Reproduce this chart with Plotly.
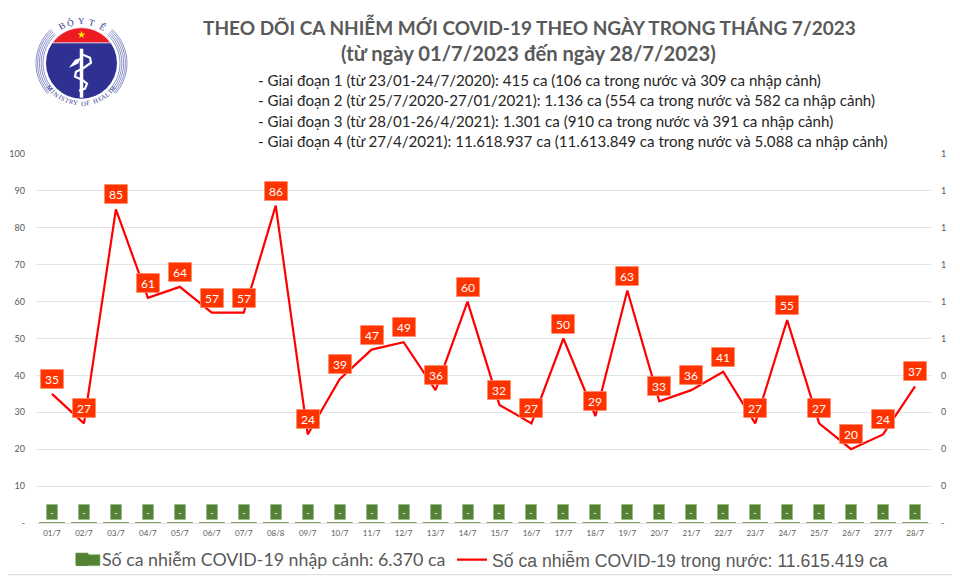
import math
import plotly.graph_objects as go

days = ["01/7", "02/7", "03/7", "04/7", "05/7", "06/7", "07/7", "08/8", "09/7", "10/7",
        "11/7", "12/7", "13/7", "14/7", "15/7", "16/7", "17/7", "18/7", "19/7", "20/7",
        "21/7", "22/7", "23/7", "24/7", "25/7", "26/7", "27/7", "28/7"]
trong_nuoc = [35, 27, 85, 61, 64, 57, 57, 86, 24, 39, 47, 49, 36, 60, 32, 27, 50, 29, 63, 33,
              36, 41, 27, 55, 27, 20, 24, 37]
nhap_canh = [0] * 28

left_ticks = [0, 10, 20, 30, 40, 50, 60, 70, 80, 90, 100]
left_labels = ["-", "10", "20", "30", "40", "50", "60", "70", "80", "90", "100"]
right_ticks = [0, 0.1, 0.2, 0.3, 0.4, 0.5, 0.6, 0.7, 0.8, 0.9, 1]
right_labels = ["-", "0", "0", "0", "0", "1", "1", "1", "1", "1", "1"]

title_lines = ["THEO DÕI CA NHIỄM MỚI COVID-19 THEO NGÀY TRONG THÁNG 7/2023",
               "(từ ngày 01/7/2023 đến ngày 28/7/2023)"]
giai_doan = ["- Giai đoạn 1 (từ 23/01-24/7/2020): 415 ca (106 ca trong nước và 309 ca nhập cảnh)",
             "- Giai đoạn 2 (từ 25/7/2020-27/01/2021): 1.136 ca (554 ca trong nước và 582 ca nhập cảnh)",
             "- Giai đoạn 3 (từ 28/01-26/4/2021): 1.301 ca (910 ca trong nước và 391 ca nhập cảnh)",
             "- Giai đoạn 4 (từ 27/4/2021): 11.618.937 ca (11.613.849 ca trong nước và 5.088 ca nhập cảnh)"]

# the page body has an 8px margin, so the figure is 8px smaller than the window
PAD = 8
W, H = 960 - PAD, 576 - PAD
M_L, M_R, M_T, M_B = 36 - PAD, 29, 154.3 - PAD, 52.7


# page pixels -> paper coordinates, for the header and the logo
def px(x):
    return (x - PAD - M_L) / (W - M_L - M_R)


def py(y):
    return 1 - (y - PAD - M_T) / (H - M_T - M_B)


def circle(cx, cy, r, **kw):
    return dict(type="circle", xref="paper", yref="paper", x0=px(cx - r), x1=px(cx + r),
                y0=py(cy + r), y1=py(cy - r), layer="above", **kw)


def svg_path(points, close=True):
    d = "M " + " L ".join(f"{px(x)},{py(y)}" for x, y in points)
    return d + (" Z" if close else "")


def page_text(x, y, text, xanchor="center", **kw):
    return dict(x=px(x), y=py(y), xref="paper", yref="paper", text=text, showarrow=False,
                xanchor=xanchor, yanchor="middle", **kw)


fig = go.Figure()
fig.add_trace(go.Bar(x=days, y=nhap_canh, yaxis="y2", name="Số ca nhiễm COVID-19 nhập cảnh: 6.370 ca",
                     marker=dict(color="#548235", line=dict(color="#548235", width=1)),
                     legend="legend", showlegend=True))
fig.add_trace(go.Scatter(x=days, y=trong_nuoc, mode="lines", name="Số ca nhiễm COVID-19 trong nước: 11.615.419 ca",
                         line=dict(color="#ff0000", width=2.2), legend="legend2", showlegend=True))

annotations = []
for d, v in zip(days, trong_nuoc):
    annotations.append(dict(x=d, y=v, text=str(v), showarrow=False, yshift=15, width=19, height=15,
                            bgcolor="#ff3300", bordercolor="#ffb8a0", borderwidth=0.5, borderpad=2,
                            font=dict(family="Lato", size=12, color="white")))
for d, v in zip(days, nhap_canh):
    annotations.append(dict(x=d, y=v, yref="y2", text="-", showarrow=False, yshift=11, width=9, height=13,
                            bgcolor="#548235", bordercolor="#b9cfa8", borderwidth=0.5, borderpad=1,
                            font=dict(family="Lato", size=9, color="white")))

annotations.append(page_text(529, 27, f"<b>{title_lines[0]}</b>", font=dict(family="Lato", size=19, color="#595959")))
annotations.append(page_text(528, 53, f"<b>{title_lines[1]}</b>", font=dict(family="Lato", size=20.2, color="#595959")))
for txt, cy in zip(giai_doan, [80, 100, 121, 141]):
    annotations.append(page_text(256, cy, txt, xanchor="left", font=dict(family="Lato", size=15.1, color="#262626")))

# logo
LX, LY = 81.5, 63.5
shapes = []
for r in [38.5, 40.3, 42.1, 43.9, 45.5]:
    for a0, a1 in [(-42, 48), (132, 222)]:
        arc = [(LX + r * math.cos(math.radians(a)), LY - r * math.sin(math.radians(a))) for a in range(a0, a1 + 1, 6)]
        shapes.append(dict(type="path", xref="paper", yref="paper", path=svg_path(arc, close=False),
                           line=dict(color="#5a62b0", width=0.7), fillcolor="rgba(0,0,0,0)", layer="above"))
shapes.append(circle(LX, LY, 35.5, fillcolor="#2e3192", line_width=0))
cap = [(LX + 35.5 * math.cos(math.radians(a)), LY - 35.5 * math.sin(math.radians(a))) for a in range(35, 146, 5)]
shapes.append(dict(type="path", xref="paper", yref="paper", path=svg_path(cap), fillcolor="#ed1c24",
                   line=dict(color="white", width=0.8), layer="above"))
star = []
for i in range(10):
    r = 4 if i % 2 == 0 else 1.6
    a = math.radians(90 + 36 * i)
    star.append((LX + r * math.cos(a), 35 - r * math.sin(a)))
shapes.append(dict(type="path", xref="paper", yref="paper", path=svg_path(star), fillcolor="#fff200",
                   line_width=0, layer="above"))
# staff, snake and leaf
shapes.append(dict(type="line", xref="paper", yref="paper", x0=px(LX), x1=px(LX), y0=py(49), y1=py(98),
                   line=dict(color="white", width=3.5), layer="above"))
snake = [(83, 55), (90, 58), (91, 63), (84, 68), (76, 72), (75, 77), (82, 80), (87, 84), (85, 89), (79, 91)]
shapes.append(dict(type="path", xref="paper", yref="paper", path=svg_path(snake, close=False),
                   line=dict(color="white", width=2.2), fillcolor="rgba(0,0,0,0)", layer="above"))
leaf = [(69, 68), (75, 60), (81, 58), (78, 64)]
shapes.append(dict(type="path", xref="paper", yref="paper", path=svg_path(leaf), fillcolor="white",
                   line_width=0, layer="above"))
# page edge line
shapes.append(dict(type="line", xref="paper", yref="paper", x0=px(0), x1=px(960), y0=py(575), y1=py(575),
                   line=dict(color="#d9d9d9", width=1), layer="above"))
# wider legend swatch, as in the reference
shapes.append(dict(type="rect", xref="paper", yref="paper", x0=px(77), x1=px(100), y0=py(566), y1=py(555),
                   fillcolor="#548235", line=dict(color="#6fbf73", width=0.6), layer="below"))

for ch, a in [("B", 118), ("Ộ", 105), ("Y", 90), ("T", 75), ("Ế", 60)]:
    annotations.append(page_text(LX + 42 * math.cos(math.radians(a)), LY - 42 * math.sin(math.radians(a)), ch,
                                 textangle=90 - a, font=dict(family="Liberation Serif", size=9, color="#2e3192")))
motto = "MINISTRY OF HEALTH"
for i, ch in enumerate(motto):
    a = 219 + i * 102 / (len(motto) - 1)
    annotations.append(page_text(LX + 40 * math.cos(math.radians(a)), LY - 40 * math.sin(math.radians(a)), ch,
                                 textangle=270 - a, font=dict(family="Liberation Serif", size=6.5, color="#2e3192")))

grid = "#e3e3e3"
fig.update_layout(
    width=W, height=H, autosize=False, showlegend=True,
    margin=dict(l=M_L, r=M_R, t=M_T, b=M_B, autoexpand=False),
    paper_bgcolor="white", plot_bgcolor="white", annotations=annotations, shapes=shapes,
    xaxis=dict(type="category", categoryarray=days, showgrid=False, showline=True, linecolor=grid, ticks="",
               tickangle=0, ticklabelstandoff=2, tickfont=dict(family="Lato", size=8, color="#595959")),
    yaxis=dict(range=[0, 100], tickvals=left_ticks, ticktext=left_labels, gridcolor=grid, gridwidth=1,
               zeroline=False, ticks="", ticklabelstandoff=10, tickfont=dict(family="Lato", size=9, color="#595959")),
    yaxis2=dict(range=[0, 1], overlaying="y", side="right", tickvals=right_ticks, ticktext=right_labels,
                showgrid=False, zeroline=False, ticks="", ticklabelstandoff=9,
                tickfont=dict(family="Lato", size=9, color="#595959")),
    legend=dict(x=px(62), y=py(560), xanchor="left", yanchor="middle", orientation="h",
                font=dict(family="Lato", size=17.8, color="#595959"), bgcolor="rgba(0,0,0,0)"),
    legend2=dict(x=px(452), y=py(560), xanchor="left", yanchor="middle", orientation="h",
                 font=dict(family="Liberation Sans", size=17.6, color="#595959"), bgcolor="rgba(0,0,0,0)"),
)

fig.write_html("out.html")
